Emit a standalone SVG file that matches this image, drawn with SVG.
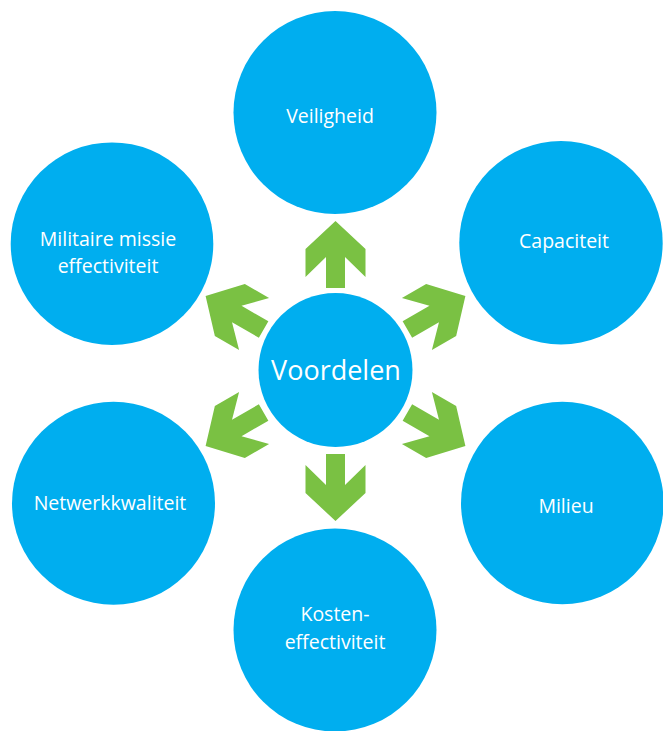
<svg xmlns="http://www.w3.org/2000/svg" width="663" height="731" viewBox="0 0 663 731">
<style>
.c{fill:#00AEEF}
.t{fill:#ffffff;font-family:"Open Sans","Noto Sans",sans-serif;font-size:19.5px;text-anchor:middle}
.a{fill:#7AC143}
</style>
<defs>
<polygon id="arr" points="83,-9.5 114,-9.5 94,-30 122,-30 150,0 122,30 94,30 114,9.5 83,9.5"/>
</defs>
<rect width="663" height="731" fill="#ffffff"/>
<g id="connectors" class="a">
<use href="#arr" transform="translate(335.5,371) rotate(-90)"/>
<use href="#arr" transform="translate(335.5,371) rotate(-30)"/>
<use href="#arr" transform="translate(335.5,371) rotate(30)"/>
<use href="#arr" transform="translate(335.5,371) rotate(90)"/>
<use href="#arr" transform="translate(335.5,371) rotate(150)"/>
<use href="#arr" transform="translate(335.5,371) rotate(210)"/>
</g>
<g id="voordelen">
<circle class="c" cx="335.5" cy="370" r="77"/>
<text class="t" x="336" y="380" style="font-size:27px">Voordelen</text>
</g>
<g id="veiligheid">
<circle class="c" cx="335" cy="112.5" r="101.5"/>
<text class="t" x="330" y="123">Veiligheid</text>
</g>
<g id="capaciteit">
<circle class="c" cx="561" cy="242.7" r="101.7"/>
<text class="t" x="564" y="248">Capaciteit</text>
</g>
<g id="milieu">
<circle class="c" cx="562.3" cy="503" r="101.3"/>
<text class="t" x="566" y="513">Milieu</text>
</g>
<g id="kosten">
<circle class="c" cx="335" cy="630" r="101.5"/>
<text class="t" x="335" y="621">Kosten-</text>
<text class="t" x="335" y="649">effectiviteit</text>
</g>
<g id="netwerkkwaliteit">
<circle class="c" cx="113.5" cy="503.3" r="101.5"/>
<text class="t" x="110" y="510">Netwerkkwaliteit</text>
</g>
<g id="militaire">
<circle class="c" cx="112" cy="243.7" r="101.3"/>
<text class="t" x="108" y="246">Militaire missie</text>
<text class="t" x="108" y="273">effectiviteit</text>
</g>
</svg>
